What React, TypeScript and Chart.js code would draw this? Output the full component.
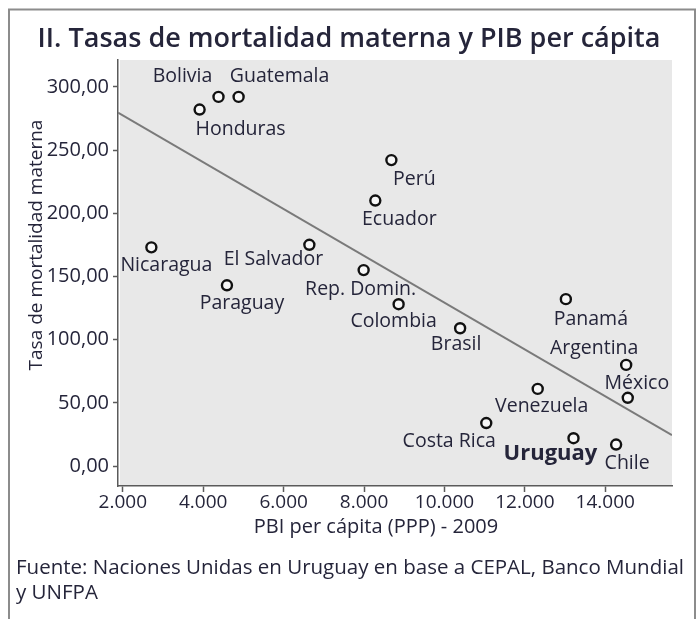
import React, { useEffect, useRef } from 'react';
import { Chart, registerables } from 'chart.js';

Chart.register(...registerables);

// ---- data ----
const COUNTRIES = [
  'Bolivia', 'Guatemala', 'Honduras', 'Nicaragua', 'El Salvador', 'Paraguay',
  'Rep. Domin.', 'Perú', 'Ecuador', 'Colombia', 'Brasil', 'Panamá',
  'Argentina', 'México', 'Venezuela', 'Costa Rica', 'Uruguay', 'Chile',
];
const PIB_PER_CAPITA = [
  4380, 4880, 3910, 2710, 6640, 4590,
  7990, 8680, 8280, 8860, 10390, 13020,
  14520, 14560, 12320, 11040, 13210, 14270,
];
const MORTALIDAD = [
  292, 292, 282, 173, 175, 143,
  155, 242, 210, 128, 109, 132,
  80, 54, 61, 34, 22, 17,
];
const FIT_X = [1880, 15660];
const FIT_Y = [279.5, 24.5];
const X_TICKS = [2000, 4000, 6000, 8000, 10000, 12000, 14000];
const Y_TICKS = [0, 50, 100, 150, 200, 250, 300];
const X_RANGE = [1880, 15660];
const Y_RANGE = [-15.8, 321.2];

const TITLE = 'II. Tasas de mortalidad materna y PIB per cápita';
const X_TITLE = 'PBI per cápita (PPP) - 2009';
const Y_TITLE = 'Tasa de mortalidad materna';
const SOURCE = [
  'Fuente: Naciones Unidas en Uruguay en base a CEPAL, Banco Mundial',
  'y UNFPA',
];
const HIGHLIGHT = 'Uruguay';

// label placement (pixels from the point centre) – style only
const LABEL_OFFSETS: [number, number][] = [
  [-36, -20], [41, -20], [41, 20], [15, 18], [-36, 15], [15, 18],
  [-3, 19], [23, 19], [24, 19], [-5, 17], [-4, 16], [25, 20],
  [-32, -16], [9, -14], [4, 18], [-37, 18], [-23, 16], [11, 19],
];

const FONT = "'Open Sans', 'Noto Sans', sans-serif";
const TEXT = '#25253a';
const AXIS = '#5a5a5a';

const fmtX = (v: number) => {
  const t = Math.floor(v / 1000);
  const r = String(Math.round(v % 1000)).padStart(3, '0');
  return t > 0 ? `${t}.${r}` : String(v);
};
const fmtY = (v: number) => v.toFixed(2).replace('.', ',');

const decorPlugin = {
  id: 'decor',
  beforeDraw(chart: any) {
    const { ctx, chartArea: a } = chart;
    ctx.save();
    ctx.fillStyle = '#ffffff';
    ctx.fillRect(0, 0, chart.width, chart.height);
    ctx.fillStyle = '#e8e8e8';
    ctx.fillRect(a.left + 2, a.top, a.right - a.left - 2, a.bottom - a.top);
    ctx.restore();
  },
  afterDraw(chart: any) {
    const { ctx } = chart;
    const xs = chart.scales.x;
    const ys = chart.scales.y;
    ctx.save();
    // frame
    ctx.strokeStyle = '#8c8c8c';
    ctx.lineWidth = 2;
    ctx.strokeRect(9, 9.5, 686, 700);

    // title
    ctx.fillStyle = TEXT;
    ctx.textAlign = 'center';
    ctx.textBaseline = 'alphabetic';
    ctx.font = `600 27px ${FONT}`;
    ctx.fillText(TITLE, 349, 47);

    // axis titles
    ctx.font = `20px ${FONT}`;
    ctx.fillText(X_TITLE, 376, 533);
    ctx.font = `19px ${FONT}`;
    ctx.save();
    ctx.translate(42, 245);
    ctx.rotate(-Math.PI / 2);
    ctx.fillText(Y_TITLE, 0, 0);
    ctx.restore();

    // point labels
    ctx.textBaseline = 'middle';
    COUNTRIES.forEach((name, i) => {
      const px = xs.getPixelForValue(PIB_PER_CAPITA[i]);
      const py = ys.getPixelForValue(MORTALIDAD[i]);
      const [dx, dy] = LABEL_OFFSETS[i];
      ctx.font = name === HIGHLIGHT ? `bold 22px ${FONT}` : `19.5px ${FONT}`;
      ctx.fillText(name, px + dx, py + dy);
    });

    // source
    ctx.textAlign = 'left';
    ctx.font = `20.5px ${FONT}`;
    ctx.fillText(SOURCE[0], 16, 568);
    ctx.fillText(SOURCE[1], 16, 593);
    ctx.restore();
  },
};

export default function App() {
  const ref = useRef<HTMLCanvasElement | null>(null);

  useEffect(() => {
    if (!ref.current) return;
    const chart = new Chart(ref.current, {
      type: 'scatter',
      data: {
        datasets: [
          {
            type: 'line',
            label: 'fit',
            data: FIT_X.map((x, i) => ({ x, y: FIT_Y[i] })),
            borderColor: '#7a7a7a',
            borderWidth: 2,
            pointRadius: 0,
            fill: false,
          } as any,
          {
            label: 'países',
            data: PIB_PER_CAPITA.map((x, i) => ({ x, y: MORTALIDAD[i] })),
            pointRadius: 5,
            pointHoverRadius: 5,
            borderColor: '#111111',
            backgroundColor: '#f7f7f7',
            borderWidth: 2.4,
          },
        ],
      },
      options: {
        responsive: false,
        devicePixelRatio: 1,
        animation: false,
        events: [],
        layout: { padding: { left: 0, right: 26, top: 60, bottom: 103 } },
        plugins: {
          legend: { display: false },
          title: { display: false },
          tooltip: { enabled: false },
        },
        scales: {
          x: {
            type: 'linear',
            min: X_RANGE[0],
            max: X_RANGE[1],
            afterBuildTicks: (s: any) => {
              s.ticks = X_TICKS.map((value) => ({ value }));
            },
            afterFit: (s: any) => {
              s.height = 30;
            },
            ticks: {
              callback: (v: any) => fmtX(Number(v)),
              font: { family: FONT, size: 19 },
              color: TEXT,
              padding: -1,
              maxRotation: 0,
              autoSkip: false,
            },
            grid: { drawOnChartArea: false, tickLength: 6, color: AXIS, tickWidth: 1.5 },
            border: { display: true, color: AXIS, width: 1.5 },
          },
          y: {
            type: 'linear',
            min: Y_RANGE[0],
            max: Y_RANGE[1],
            afterBuildTicks: (s: any) => {
              s.ticks = Y_TICKS.map((value) => ({ value }));
            },
            afterFit: (s: any) => {
              s.width = 118;
            },
            ticks: {
              callback: (v: any) => fmtY(Number(v)),
              font: { family: FONT, size: 20 },
              color: TEXT,
              padding: 4,
              autoSkip: false,
            },
            grid: { drawOnChartArea: false, tickLength: 5, color: AXIS, tickWidth: 1.5 },
            border: { display: true, color: AXIS, width: 1.5 },
          },
        },
      },
      plugins: [decorPlugin],
    });
    return () => chart.destroy();
  }, []);

  return (
    <div style={{ position: 'absolute', left: 0, top: 0, width: 698, height: 619 }}>
      <canvas ref={ref} width={698} height={619} style={{ display: 'block', width: 698, height: 619 }} />
    </div>
  );
}
